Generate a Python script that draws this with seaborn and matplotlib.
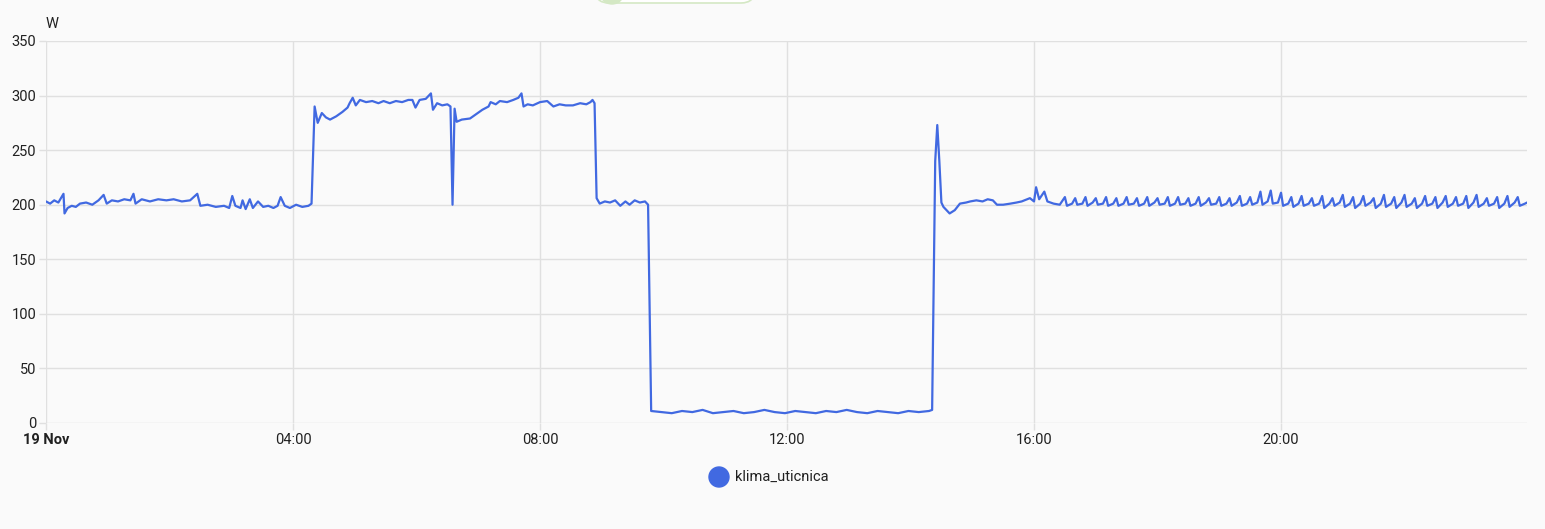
import numpy as np
import pandas as pd
import matplotlib
matplotlib.use("Agg")
import matplotlib.pyplot as plt
from matplotlib.patches import FancyBboxPatch, Circle
import seaborn as sns


# ── Data (minutes since 00:00, 19 Nov) ───────────────────────────────────────

MINUTES = [
    # night, ~200 W
    0, 4, 8, 12, 17, 18, 21, 25, 29, 33, 39, 45, 51, 56, 59,
    64, 70, 76, 82, 85, 87, 93, 101, 109, 117, 124, 132, 140, 147, 150,
    157, 165, 173, 178, 181, 184, 189, 191, 194, 198, 201, 206, 211, 216, 221,
    225, 228, 232, 237, 243, 249, 255, 258,
    # morning, ~290 W
    261, 264, 268, 272, 276, 282, 288, 293, 295, 298, 301, 305, 311, 317, 323,
    328, 334, 340, 346, 352, 356, 359, 363, 369, 374, 376, 380, 385, 390, 393,
    395, 397, 399, 404, 412, 418, 424, 430, 432, 437, 441, 448, 454, 459, 462,
    464, 468, 473, 480, 487, 493, 499, 505, 512, 519, 525, 529, 531, 533,
    # short ~200 W step
    535, 538, 543, 548, 553, 558, 563, 567, 572, 577, 582, 585,
    # off, ~10 W
    588, 598, 608, 618, 628, 638, 648, 658, 668, 678, 688, 698, 708, 718, 728,
    738, 748, 758, 768, 778, 788, 798, 808, 818, 828, 838, 848, 858,
    # restart spike and settle
    861, 864, 866, 868, 870, 872, 878, 883, 888, 894, 898, 904, 910, 915, 920,
    924, 930, 937, 943, 948, 956, 960, 962, 965, 970, 973, 979, 985,
    # evening cycling
    990, 992, 997, 1000, 1002, 1007, 1010, 1012, 1017,
    1020, 1022, 1027, 1030, 1032, 1037, 1040, 1042, 1047,
    1050, 1052, 1057, 1060, 1062, 1067, 1070, 1072, 1077,
    1080, 1082, 1087, 1090, 1092, 1097, 1100, 1102, 1107,
    1110, 1112, 1117, 1120, 1122, 1127, 1130, 1132, 1137,
    1140, 1142, 1147, 1150, 1152, 1157, 1160, 1162, 1167,
    1170, 1172, 1177, 1180, 1182, 1187, 1190, 1192, 1197,
    1200, 1202, 1207, 1210, 1212, 1217, 1220, 1222, 1227,
    1230, 1232, 1237, 1240, 1242, 1247, 1250, 1252, 1257,
    1260, 1262, 1267, 1270, 1272, 1277, 1280, 1282, 1287,
    1290, 1292, 1297, 1300, 1302, 1307, 1310, 1312, 1317,
    1320, 1322, 1327, 1330, 1332, 1337, 1340, 1342, 1347,
    1350, 1352, 1357, 1360, 1362, 1367, 1370, 1372, 1377,
    1380, 1382, 1387, 1390, 1392, 1397, 1400, 1402, 1407,
    1410, 1412, 1417, 1420, 1422, 1427, 1430, 1432, 1437,
    1439,
]

WATTS = [
    203, 201, 204, 202, 210, 192, 197, 199, 198, 201, 202, 200, 204, 209, 201,
    204, 203, 205, 204, 210, 201, 205, 203, 205, 204, 205, 203, 204, 210, 199,
    200, 198, 199, 197, 208, 199, 197, 204, 196, 205, 197, 203, 198, 199, 197,
    199, 207, 199, 197, 200, 198, 199, 201,
    290, 275, 284, 280, 278, 281, 285, 289, 293, 298, 291, 296, 294, 295, 293,
    295, 293, 295, 294, 296, 296, 289, 296, 297, 302, 287, 293, 291, 292, 290,
    200, 288, 276, 278, 279, 283, 287, 290, 294, 292, 295, 294, 296, 298, 302,
    290, 292, 291, 294, 295, 290, 292, 291, 291, 293, 292, 294, 296, 293,
    206, 201, 203, 202, 204, 199, 203, 200, 204, 202, 203, 200,
    11, 10, 9, 11, 10, 12, 9, 10, 11, 9, 10, 12, 10, 9, 11,
    10, 9, 11, 10, 12, 10, 9, 11, 10, 9, 11, 10, 11,
    12, 240, 273, 240, 202, 198, 192, 195, 201, 202, 203, 204, 203, 205, 204,
    200, 200, 201, 202, 203, 206, 203, 216, 205, 212, 203, 201, 200,
    207, 199, 201, 206, 200, 201, 207, 199, 202,
    206, 200, 201, 207, 199, 201, 206, 199, 201,
    207, 200, 201, 206, 199, 201, 207, 199, 202,
    206, 200, 201, 207, 199, 201, 207, 200, 201,
    206, 199, 201, 207, 199, 202, 206, 200, 201,
    207, 199, 201, 206, 199, 202, 208, 199, 201,
    207, 200, 202, 212, 200, 203, 213, 201, 202,
    211, 199, 201, 207, 198, 201, 208, 199, 201,
    206, 199, 201, 208, 197, 201, 206, 199, 202,
    209, 198, 201, 207, 197, 201, 208, 199, 202,
    206, 197, 201, 209, 198, 201, 207, 197, 202,
    209, 198, 201, 206, 197, 201, 208, 199, 201,
    207, 197, 202, 208, 198, 201, 207, 199, 201,
    208, 197, 202, 209, 198, 201, 206, 199, 201,
    207, 197, 201, 208, 198, 202, 207, 199, 201,
    202,
]

SERIES_NAME = "klima_uticnica"
UNIT = "W"
X_TICKS = [0, 240, 480, 720, 960, 1200]
X_LABELS = ["19 Nov", "04:00", "08:00", "12:00", "16:00", "20:00"]
Y_TICKS = [0, 50, 100, 150, 200, 250, 300, 350]

LINE_COLOR = "#4169e1"
BG = "#fafafa"
GRID = "#e0e0e0"
TEXT = "#212121"
FS = 10.5


# ── Figure ───────────────────────────────────────────────────────────────────

sns.set_theme(style="white")
plt.rcParams["font.family"] = ["Roboto", "DejaVu Sans"]

df = pd.DataFrame({"minute": MINUTES, "watts": WATTS})

fig = plt.figure(figsize=(15.45, 5.29), dpi=100, facecolor=BG)
ax = fig.add_axes([46 / 1545, 1 - 423 / 529, 1481 / 1545, 382 / 529])
ax.set_facecolor(BG)

sns.lineplot(data=df, x="minute", y="watts", ax=ax, color=LINE_COLOR,
             linewidth=1.6, legend=False)

ax.set_xlim(0, 1439)
ax.set_ylim(0, 350)
ax.set_xticks(X_TICKS)
ax.set_xticklabels(X_LABELS)
ax.set_yticks(Y_TICKS)
ax.set_xlabel("")
ax.set_ylabel("")
ax.xaxis.get_majorticklabels()[0].set_fontweight("bold")

ax.grid(True, color=GRID, linewidth=1.0)
ax.set_axisbelow(True)
for s in ax.spines.values():
    s.set_visible(False)
ax.tick_params(axis="y", length=5, width=1, color=GRID, labelsize=FS,
               labelcolor=TEXT, pad=2, left=True)
ax.tick_params(axis="x", length=5, width=1, color=GRID, labelsize=FS,
               labelcolor=TEXT, pad=2, bottom=True)

# unit label
fig.text(46 / 1545, 1 - 24 / 529, UNIT, ha="left", va="center",
         fontsize=FS, color=TEXT)

# legend and cut-off toggle, drawn in pixel coordinates
over = fig.add_axes([0, 0, 1, 1], facecolor="none")
over.set_xlim(0, 1545)
over.set_ylim(529, 0)
over.axis("off")
over.add_patch(Circle((719, 477), 10, color=LINE_COLOR))
over.text(735, 477, SERIES_NAME, ha="left", va="center",
          fontsize=FS, color=TEXT)

over.add_patch(FancyBboxPatch((595, -25), 160, 28,
                              boxstyle="round,pad=0,rounding_size=14",
                              facecolor="white", edgecolor="#d4e8c4",
                              linewidth=1.2))
over.add_patch(Circle((612, -8), 12, color="#d4e8c4"))

fig.savefig("out.png", dpi=100, facecolor=BG)
